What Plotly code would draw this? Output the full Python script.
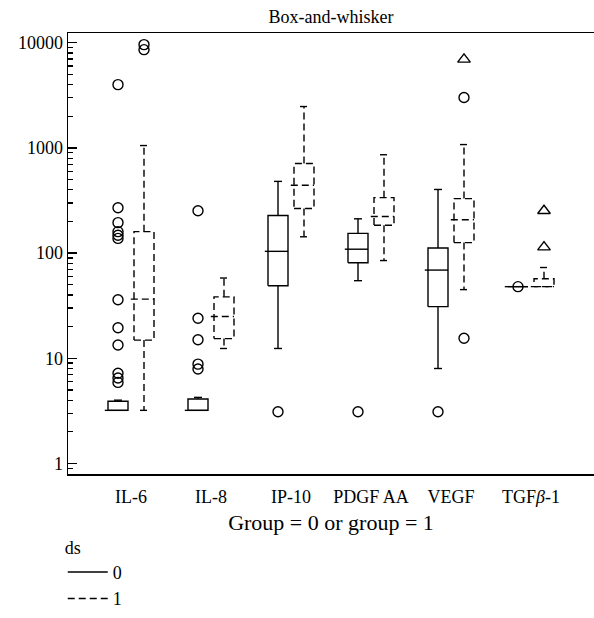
import plotly.graph_objects as go

# ---------------- data ----------------
categories = ["IL-6", "IL-8", "IP-10", "PDGF AA", "VEGF", "TGF<i>β</i>-1"]

# group ds = 0 (solid)
lower0 = [3.2, 3.2, 12.4, 54.7, 8.0, 48]
q1_0 = [3.2, 3.2, 49, 81, 31, 48]
med0 = [3.2, 3.2, 104, 109, 69, 48]
q3_0 = [3.9, 4.1, 228, 154, 112, 48]
upper0 = [4.0, 4.25, 481, 212, 403, 48]
out0 = [
    [4000, 270, 195, 160, 148, 138, 36, 19.5, 13.4, 7.2, 6.5, 5.9],
    [253, 24, 15, 8.8, 7.9],
    [3.1],
    [3.1],
    [3.1],
    [48],
]

# group ds = 1 (dashed)
lower1 = [3.2, 12.4, 143, 85, 45, 48]
q1_1 = [14.9, 15.4, 266, 184, 126, 48]
med1 = [36.5, 25, 442, 223, 208, 48]
q3_1 = [160, 38.4, 711, 337, 330, 57]
upper1 = [1054, 58, 2477, 862, 1077, 73]
out1_circle = [[9600, 8600], [], [], [], [3020, 15.5], []]
out1_triangle = [[], [], [], [], [6950], [253, 114]]

y_tickvals = [1, 10, 100, 1000, 10000]
y_ticktext = ["1", "10", "100", "1000", "10000"]

# ---------------- styling constants ----------------
FONT = "Liberation Serif"
OFFSET = 0.1625   # half distance between the two boxes in a category
BOXW = 0.25       # box width in category units
CAPW = 0.05       # half width of whisker caps
MEDEXT = 0.04     # median line sticks out on the left
LW = 1.4
W, H = 594, 618


def box_path(centers, lo, q1, med, q3, up):
    xs, ys = [], []
    for c, a, b, m, d, e in zip(centers, lo, q1, med, q3, up):
        l, r = c - BOXW / 2, c + BOXW / 2
        xs += [l, r, r, l, l, None]
        ys += [b, b, d, d, b, None]
        xs += [l - MEDEXT, r, None]
        ys += [m, m, None]
        if e > d:
            xs += [c, c, None, c - CAPW, c + CAPW, None]
            ys += [d, e, None, e, e, None]
        if a < b:
            xs += [c, c, None, c - CAPW, c + CAPW, None]
            ys += [b, a, None, a, a, None]
    return xs, ys


def points(centers, groups):
    xs, ys = [], []
    for c, g in zip(centers, groups):
        for v in g:
            xs.append(c)
            ys.append(v)
    return xs, ys


idx = list(range(len(categories)))
c0 = [i - OFFSET for i in idx]
c1 = [i + OFFSET for i in idx]

fig = go.Figure()

x0, y0 = box_path(c0, lower0, q1_0, med0, q3_0, upper0)
fig.add_trace(go.Scatter(x=x0, y=y0, mode="lines", name="0",
                         line=dict(color="black", width=LW),
                         connectgaps=False, hoverinfo="skip"))
x1, y1 = box_path(c1, lower1, q1_1, med1, q3_1, upper1)
fig.add_trace(go.Scatter(x=x1, y=y1, mode="lines", name="1",
                         line=dict(color="black", width=LW, dash="7px,4px"),
                         connectgaps=False, hoverinfo="skip"))

px0, py0 = points(c0, out0)
fig.add_trace(go.Scatter(x=px0, y=py0, mode="markers", showlegend=False,
                         hoverinfo="skip",
                         marker=dict(symbol="circle-open", size=10, color="black",
                                     line=dict(width=LW, color="black"))))
px1, py1 = points(c1, out1_circle)
fig.add_trace(go.Scatter(x=px1, y=py1, mode="markers", showlegend=False,
                         hoverinfo="skip",
                         marker=dict(symbol="circle-open", size=10, color="black",
                                     line=dict(width=LW, color="black"))))
pt1, qt1 = points(c1, out1_triangle)
fig.add_trace(go.Scatter(x=pt1, y=qt1, mode="markers", showlegend=False,
                         hoverinfo="skip",
                         marker=dict(symbol="triangle-up-open", size=11, color="black",
                                     line=dict(width=LW, color="black"))))

fig.update_layout(
    width=W, height=H,
    margin=dict(l=68, r=0, t=33, b=133, pad=0),
    paper_bgcolor="white", plot_bgcolor="white",
    font=dict(family=FONT, size=18, color="black"),
    hovermode=False,
    title=dict(text="Box-and-whisker", x=0.5, xref="paper", xanchor="center",
               y=1 - 17 / H, yref="container", yanchor="middle",
               font=dict(family=FONT, size=18, color="black")),
    showlegend=True,
    legend=dict(title=dict(text="ds", font=dict(size=18)), x=-0.01, xanchor="left",
                y=-0.128, yanchor="top", font=dict(size=18),
                bgcolor="rgba(0,0,0,0)", itemwidth=40),
    xaxis=dict(range=[-0.7875, 5.7875], tickmode="array", tickvals=idx,
               ticktext=categories, ticks="", ticklabelstandoff=6,
               showline=True, mirror=True,
               linecolor="black", linewidth=1.5, showgrid=False, zeroline=False,
               title=dict(text="Group = 0 or group = 1", standoff=8)),
    yaxis=dict(type="log", range=[-0.1, 4.093], tickmode="array",
               tickvals=y_tickvals, ticktext=y_ticktext, ticks="inside",
               ticklen=9, tickwidth=1.3, tickcolor="black",
               minor=dict(ticks="inside", ticklen=5, tickwidth=1.3,
                          tickcolor="black", dtick="D1", showgrid=False),
               showline=True, linecolor="black", linewidth=1.5, mirror=False,
               showgrid=False, zeroline=False),
)

fig.write_html(
    "out.html",
    config={"displayModeBar": False, "staticPlot": True},
    post_script="document.body.style.margin='0px';"
                "document.documentElement.style.overflow='hidden';",
)
